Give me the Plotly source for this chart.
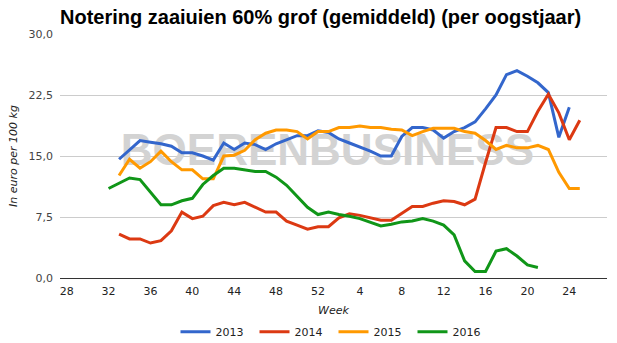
import plotly.graph_objects as go

# Week labels of the harvest year (week 28 .. week 52, then week 1 .. week 27)
weeks = list(range(28, 53)) + list(range(1, 28))
tick_weeks = [28, 32, 36, 40, 44, 48, 52, 4, 8, 12, 16, 20, 24]

series_names = ["2013", "2014", "2015", "2016"]
series_colors = ["#3366cc", "#dc3912", "#ff9900", "#109618"]
start_weeks = [33, 33, 33, 32]

values_2013 = [14.6, 15.8, 16.9, 16.7, 16.5, 16.2, 15.4, 15.4, 15.0, 14.5,
               16.6, 15.8, 16.6, 16.4, 15.8, 16.5, 17.0, 17.5, 17.5, 18.1,
               17.9, 17.1, 16.6, 16.1, 15.6, 15.0, 15.0, 17.4, 18.5, 18.5,
               18.2, 17.2, 18.0, 18.5, 19.2, 20.8, 22.5, 25.0, 25.5, 24.8,
               24.0, 22.8, 17.3, 21.0]
values_2014 = [5.4, 4.8, 4.8, 4.3, 4.6, 5.8, 8.1, 7.3, 7.6, 8.9,
               9.3, 9.0, 9.3, 8.7, 8.1, 8.1, 7.0, 6.5, 6.0, 6.3,
               6.3, 7.4, 7.9, 7.7, 7.4, 7.1, 7.1, 7.9, 8.8, 8.8,
               9.2, 9.5, 9.4, 9.0, 9.7, 14.2, 18.5, 18.5, 18.0, 18.0,
               20.5, 22.6, 20.3, 17.0, 19.4]
values_2015 = [12.6, 14.6, 13.5, 14.3, 15.6, 14.3, 13.3, 13.3, 12.2, 12.2,
               15.0, 15.1, 15.7, 17.0, 17.8, 18.2, 18.2, 18.0, 17.1, 18.0,
               18.0, 18.5, 18.5, 18.7, 18.5, 18.5, 18.3, 18.2, 17.5, 18.0,
               18.4, 18.4, 18.4, 18.0, 17.8, 16.9, 15.8, 16.3, 16.0, 16.0,
               16.3, 15.8, 13.0, 11.0, 11.0]
values_2016 = [11.0, 11.7, 12.3, 12.1, 10.5, 9.0, 9.0, 9.5, 9.8, 11.5,
               12.6, 13.5, 13.5, 13.3, 13.1, 13.1, 12.4, 11.4, 10.1, 8.7,
               7.8, 8.1, 7.8, 7.6, 7.3, 6.8, 6.4, 6.6, 6.9, 7.0,
               7.3, 7.0, 6.5, 5.3, 2.1, 0.8, 0.8, 3.3, 3.6, 2.7,
               1.6, 1.3]

all_values = [values_2013, values_2014, values_2015, values_2016]

BASE_FONT = "DejaVu Sans"
BOLD_FONT = "Liberation Sans, Arial, sans-serif"

fig = go.Figure()

# watermark (drawn first so the lines sit on top of it)
fig.add_trace(go.Scatter(
    x=[24.9], y=[15.25], mode="text", text=["BOERENBUSINESS"],
    textposition="middle center",
    textfont=dict(family=BOLD_FONT, size=44, color="#d3d3d3", weight="bold"),
    showlegend=False, hoverinfo="skip"))

for name, color, start, vals in zip(series_names, series_colors, start_weeks, all_values):
    i0 = weeks.index(start)
    xs = list(range(i0, i0 + len(vals)))
    fig.add_trace(go.Scatter(
        x=xs, y=vals, mode="lines", name=name,
        line=dict(color=color, width=3)))

fig.update_layout(
    width=617, height=343,
    margin=dict(l=60, r=10, t=34, b=65, autoexpand=False),
    paper_bgcolor="white", plot_bgcolor="white",
    separators=",.",
    font=dict(family=BASE_FONT, size=11, color="#444444"),
    title=dict(text="<b>Notering zaaiuien 60% grof (gemiddeld) (per oogstjaar)</b>",
               x=0, xref="paper", xanchor="left",
               y=1 - 16.5 / 343, yref="container", yanchor="middle",
               font=dict(family=BOLD_FONT, size=20, color="#000000")),
    xaxis=dict(
        range=[-0.64, 51.6],
        tickvals=[weeks.index(w) for w in tick_weeks],
        ticktext=[str(w) for w in tick_weeks],
        showgrid=False, zeroline=False,
        showline=True, linecolor="#333333", linewidth=1,
        ticks="outside", ticklen=3, tickcolor="rgba(0,0,0,0)",
        tickfont=dict(size=11, color="#222222"),
        title=dict(text="Week", standoff=11,
                   font=dict(size=11, color="#222222", style="italic")),
        automargin=False,
    ),
    yaxis=dict(
        range=[0, 30], tickvals=[0, 7.5, 15, 22.5, 30], tickformat=".1f",
        showgrid=True, gridcolor="#cccccc", gridwidth=1,
        zeroline=False, showline=False,
        ticks="", ticklabelstandoff=6,
        tickfont=dict(size=11, color="#444444"),
        title=dict(text="In euro per 100 kg", standoff=8,
                   font=dict(size=11, color="#222222", style="italic")),
        automargin=False,
    ),
    legend=dict(orientation="h", x=0.5, xanchor="center",
                y=1 - 331.7 / 343, yref="container", yanchor="middle",
                entrywidth=34, font=dict(size=11, color="#222222"),
                bgcolor="rgba(0,0,0,0)"),
    showlegend=True,
)

fig.write_html("out.html")
